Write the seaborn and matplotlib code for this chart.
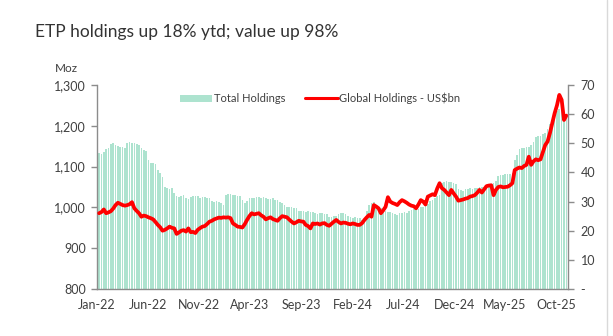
import matplotlib
matplotlib.use("Agg")
import matplotlib.pyplot as plt
import seaborn as sns
import numpy as np
import pandas as pd
from matplotlib.lines import Line2D
from matplotlib.patches import Patch
from matplotlib.ticker import FuncFormatter, FixedLocator

# ---------------- data ----------------
start_date = "2022-01-07"   # first weekly observation
title = "ETP holdings up 18% ytd; value up 98%"
left_unit = "Moz"
bar_label = "Total Holdings"
line_label = "Global Holdings - US$bn"
tick_labels = ["Jan-22", "Jun-22", "Nov-22", "Apr-23", "Sep-23",
               "Feb-24", "Jul-24", "Dec-24", "May-25", "Oct-25"]

total_holdings_moz = [
    1133, 1132, 1137, 1143, 1146, 1155, 1158, 1153, 1150, 1148,
    1149, 1145, 1157, 1160, 1158, 1157, 1155, 1154, 1146, 1141,
    1138, 1116, 1110, 1108, 1106, 1092, 1084, 1075, 1051, 1047,
    1046, 1048, 1036, 1028, 1026, 1029, 1031, 1023, 1020, 1026,
    1028, 1029, 1027, 1023, 1025, 1026, 1024, 1022, 1016, 1014,
    1015, 1013, 1012, 1006, 1031, 1033, 1032, 1030, 1031, 1029,
    1027, 1018, 1010, 1016, 1023, 1024, 1022, 1025, 1026, 1024,
    1025, 1023, 1020, 1021, 1022, 1019, 1017, 1014, 1010, 1006,
    1002, 1000, 1001, 999, 998, 991, 990, 992, 989, 990,
    988, 989, 987, 985, 986, 987, 984, 983, 977, 976,
    978, 979, 985, 987, 986, 984, 979, 977, 975, 976,
    974, 975, 969, 972, 990, 1006, 1010, 1014, 1006, 1002,
    998, 994, 990, 989, 988, 986, 983, 981, 986, 987,
    988, 987, 992, 994, 995, 994, 997, 1001, 1002, 1003,
    1008, 1016, 1018, 1024, 1029, 1031, 1059, 1062, 1064, 1063,
    1062, 1061, 1058, 1045, 1043, 1041, 1044, 1046, 1047, 1045,
    1048, 1047, 1049, 1051, 1050, 1052, 1053, 1051, 1059, 1065,
    1078, 1079, 1080, 1081, 1082, 1083, 1084, 1116, 1128, 1143,
    1145, 1146, 1147, 1149, 1152, 1160, 1172, 1174, 1176, 1181,
    1183, 1192, 1204, 1208, 1222, 1236, 1240, 1238, 1232, 1230,
]

global_holdings_usbn = [
    26.0, 26.4, 27.3, 26.0, 26.3, 26.7, 27.6, 28.8, 29.6, 29.2,
    28.8, 28.6, 28.8, 29.1, 29.8, 27.7, 26.8, 26.0, 24.8, 25.2,
    25.0, 24.6, 24.3, 23.9, 23.0, 22.0, 21.2, 20.0, 20.3, 20.8,
    21.4, 21.0, 20.8, 18.9, 19.4, 20.0, 20.2, 19.7, 20.8, 19.5,
    19.6, 19.2, 20.3, 20.9, 21.4, 21.6, 22.3, 23.1, 23.4, 23.9,
    24.2, 24.5, 24.4, 24.6, 24.5, 24.6, 24.3, 22.5, 22.0, 21.4,
    21.3, 21.1, 22.2, 23.7, 25.0, 26.0, 25.6, 25.8, 26.0, 25.3,
    24.8, 23.9, 24.3, 24.6, 24.0, 23.7, 23.4, 24.3, 25.0, 24.8,
    24.6, 23.8, 23.1, 22.5, 22.9, 23.4, 23.2, 23.1, 22.0, 21.6,
    20.8, 22.5, 22.3, 22.5, 22.1, 22.5, 22.6, 22.0, 21.7, 22.4,
    23.1, 23.7, 23.0, 22.5, 22.8, 22.7, 22.4, 22.2, 22.5, 22.3,
    22.0, 22.0, 22.6, 23.7, 24.6, 25.4, 24.8, 28.8, 28.3, 27.7,
    26.0, 27.0, 28.2, 31.5, 30.0, 29.5, 29.2, 28.8, 29.8, 30.5,
    30.1, 29.6, 29.0, 28.6, 28.4, 27.7, 29.0, 30.5, 30.0, 29.0,
    31.7, 32.1, 32.5, 32.2, 34.5, 36.3, 34.6, 34.0, 33.1, 32.2,
    34.0, 32.8, 31.7, 30.3, 30.5, 30.7, 31.0, 31.2, 31.7, 31.9,
    32.2, 33.0, 34.0, 33.1, 34.2, 35.3, 35.5, 35.6, 32.2, 34.0,
    35.0, 35.2, 34.9, 35.0, 35.1, 35.6, 36.3, 40.8, 41.3, 41.7,
    41.5, 42.2, 42.6, 45.4, 42.6, 43.8, 44.5, 44.2, 44.5, 47.0,
    49.4, 50.6, 53.5, 56.9, 60.3, 63.0, 66.6, 64.9, 58.0, 59.5,
]

# ---------------- styling ----------------
sns.set_theme(style="white")
plt.rcParams["font.family"] = ["Lato", "DejaVu Sans"]

BAR_COLOR = "#ADE3CF"
LINE_COLOR = "#FF0000"
TEXT_COLOR = "#404040"
SPINE_COLOR = "#8C8C8C"

n = len(total_holdings_moz)
dates = pd.date_range(start_date, periods=n, freq="7D")
df = pd.DataFrame({
    "week": np.arange(n),
    "holdings": total_holdings_moz,
    "value": global_holdings_usbn,
})

fig = plt.figure(figsize=(6.13, 3.36), dpi=100)
ax = fig.add_axes([97 / 613, 1 - 289 / 336, (568 - 97) / 613, (289 - 85) / 336])

sns.barplot(data=df, x="week", y="holdings", native_scale=True, color=BAR_COLOR,
            width=0.7, edgecolor="none", linewidth=0, saturation=1, ax=ax)
ax.set_ylim(800, 1300)

ax2 = ax.twinx()
sns.lineplot(data=df, x="week", y="value", color=LINE_COLOR, linewidth=2.7, ax=ax2)
ax2.set_ylim(0, 70)

# x ticks from label dates
tick_dates = pd.to_datetime(tick_labels, format="%b-%y")
tick_pos = [(d - dates[0]).days / 7.0 for d in tick_dates]
ax.set_xlim(-0.9, n - 0.3)
ax.xaxis.set_major_locator(FixedLocator(tick_pos))
ax.set_xticklabels(tick_labels)

ax.set_yticks([800, 900, 1000, 1100, 1200, 1300])
ax.yaxis.set_major_formatter(FuncFormatter(lambda v, p: f"{v:,.0f}"))
ax2.set_yticks(np.arange(0, 71, 10))
ax2.yaxis.set_major_formatter(FuncFormatter(lambda v, p: "-" if v == 0 else f"{v:.0f}"))

for a in (ax, ax2):
    a.set_xlabel("")
    a.set_ylabel("")
    a.grid(False)
    for s in a.spines.values():
        s.set_visible(False)

ax.spines["left"].set_visible(True)
ax.spines["bottom"].set_visible(True)
ax2.spines["right"].set_visible(True)
for s in (ax.spines["left"], ax.spines["bottom"], ax2.spines["right"]):
    s.set_color(SPINE_COLOR)
    s.set_linewidth(1.0)

ax.tick_params(axis="x", length=0, pad=7, labelsize=9, labelcolor=TEXT_COLOR)
ax.tick_params(axis="y", left=True, length=4, width=1, color=SPINE_COLOR,
               pad=4, labelsize=9, labelcolor=TEXT_COLOR)
ax2.tick_params(axis="y", right=True, length=4, width=1, color=SPINE_COLOR,
                pad=5, labelsize=9, labelcolor=TEXT_COLOR)

# legend
handles = [Patch(facecolor=BAR_COLOR, edgecolor="none"),
           Line2D([0], [0], color=LINE_COLOR, linewidth=2.2)]
leg = ax2.legend(handles, [bar_label, line_label], ncol=2, frameon=False,
                 loc="center", bbox_to_anchor=(0.474, 0.935), fontsize=8,
                 handlelength=2.9, handleheight=0.6, handletextpad=0.15,
                 columnspacing=1.8, labelcolor=TEXT_COLOR)

# texts
fig.text(35 / 613, 1 - 32 / 336, title, fontsize=12.5, color="#333333",
         ha="left", va="center")
fig.text(55 / 613, 1 - 68 / 336, left_unit, fontsize=8.5, color=TEXT_COLOR,
         ha="left", va="center")

# right frame line
fig.add_artist(Line2D([607 / 613, 607 / 613], [0, 1], color="#D9D9D9",
                      linewidth=1.0, transform=fig.transFigure))

fig.savefig("out.png", dpi=100, facecolor="white")
